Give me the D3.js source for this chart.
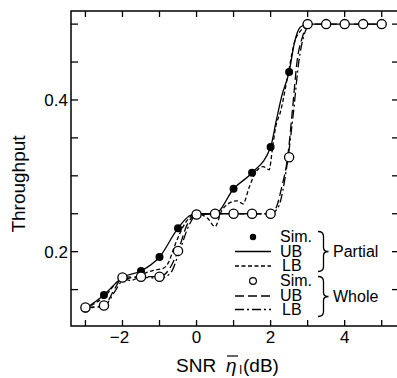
<!DOCTYPE html>
<html><head><meta charset="utf-8">
<script src="https://cdn.jsdelivr.net/npm/d3@7"></script>
<style>html,body{margin:0;padding:0;background:#fff;}svg{display:block;}</style>
</head><body>
<svg id="c" width="397" height="378"></svg>
<script>
// ---- data ----
const simX = [-3,-2.5,-2,-1.5,-1,-0.5,0,0.5,1,1.5,2,2.5,3,3.5,4,4.5,5];
const partialSim = [0.125,0.143,0.166,0.1745,0.193,0.231,0.25,0.25,0.283,0.304,0.338,0.437,0.5,0.5,0.5,0.5,0.5];
const wholeSim   = [0.1265,0.129,0.166,0.167,0.167,0.201,0.249,0.25,0.25,0.25,0.25,0.3245,0.5,0.5,0.5,0.5,0.5];

const partialUBx = [-3,-2.5,-2,-1.5,-1,-0.5,-0.2,0,0.5,1,1.5,2,2.15,2.3,2.5,2.65,2.8,3,5];
const partialUBy = [0.125,0.143,0.166,0.1745,0.193,0.231,0.247,0.25,0.25,0.283,0.304,0.338,0.372,0.405,0.437,0.477,0.496,0.5,0.5];

const partialLBx = [-3,-2.5,-2,-1.78,-1.4,-1.1,-0.9,-0.76,-0.6,-0.3,0,0.3,0.5,0.67,0.85,1.1,1.25,1.43,1.6,1.8,1.96,2.05,2.12,2.28,2.46,2.64,2.86,3];
const partialLBy = [0.125,0.14,0.164,0.162,0.1715,0.176,0.178,0.1855,0.2066,0.238,0.25,0.244,0.233,0.253,0.263,0.267,0.263,0.286,0.305,0.312,0.308,0.336,0.36,0.387,0.431,0.475,0.494,0.5];

const wholeUBx = [-3,-2.5,-2.2,-2,-1.5,-1,-0.75,-0.5,-0.25,0,0.5,1,1.5,2,2.15,2.3,2.46,2.59,2.72,2.86,3,5];
const wholeUBy = [0.1265,0.129,0.152,0.166,0.167,0.167,0.176,0.201,0.236,0.249,0.25,0.25,0.25,0.25,0.258,0.285,0.3245,0.387,0.453,0.483,0.5,0.5];

const wholeLBx = [-3,-2.5,-2.2,-2,-1.7,-1.5,-1,-0.7,-0.5,-0.2,0,0.5,1,1.5,2,2.2,2.46,2.62,2.76,2.9,3];
const wholeLBy = [0.126,0.128,0.148,0.162,0.166,0.166,0.165,0.172,0.195,0.235,0.249,0.25,0.25,0.25,0.25,0.258,0.32,0.385,0.45,0.485,0.498];

const xTicks = [-3,-2,-1,0,1,2,3,4,5];
const xTickLabels = ["", "\u22122", "", "0", "", "2", "", "4", ""];
const yTicks = [0.15,0.2,0.25,0.3,0.35,0.4,0.45,0.5];
const yTickLabels = ["", "0.2", "", "", "", "0.4", "", ""];
const legendLabels = ["Sim.","UB","LB","Sim.","UB","LB"];
const groupLabels = ["Partial","Whole"];

// ---- drawing ----
const svg = d3.select("#c");
const F = "'Liberation Sans', Arial, Helvetica, sans-serif";
const L = 71, R = 398, T = 11, B = 326;
const x = d3.scaleLinear().domain([-3.39, 5.44]).range([L, R]);
const y = d3.scaleLinear().domain([0.102, 0.5173]).range([B, T]);

// frame
svg.append("rect").attr("x", L).attr("y", T).attr("width", R - L).attr("height", B - T)
  .attr("fill", "none").attr("stroke", "#000").attr("stroke-width", 1.5);

// x ticks (inward, bottom and top)
const tk = 6;
xTicks.forEach((v, i) => {
  svg.append("line").attr("x1", x(v)).attr("x2", x(v)).attr("y1", B).attr("y2", B - tk).attr("stroke", "#000").attr("stroke-width", 1.3);
  svg.append("line").attr("x1", x(v)).attr("x2", x(v)).attr("y1", T).attr("y2", T + tk).attr("stroke", "#000").attr("stroke-width", 1.3);
  if (xTickLabels[i]) {
    svg.append("text").attr("x", x(v) - (xTickLabels[i].startsWith("\u2212") ? 3 : 0)).attr("y", 343)
      .attr("text-anchor", "middle").attr("font-family", F).attr("font-size", 17).text(xTickLabels[i]);
  }
});
yTicks.forEach((v, i) => {
  svg.append("line").attr("x1", L).attr("x2", L + 7).attr("y1", y(v)).attr("y2", y(v)).attr("stroke", "#000").attr("stroke-width", 1.3);
  svg.append("line").attr("x1", R).attr("x2", R - 6).attr("y1", y(v)).attr("y2", y(v)).attr("stroke", "#000").attr("stroke-width", 1.3);
  if (yTickLabels[i]) {
    svg.append("text").attr("x", 68).attr("y", y(v) + 6).attr("text-anchor", "end")
      .attr("font-family", F).attr("font-size", 17).text(yTickLabels[i]);
  }
});

// axis titles
svg.append("text").attr("transform", "translate(25,184) rotate(-90)").attr("text-anchor", "middle")
  .attr("font-family", F).attr("font-size", 19).text("Throughput");
svg.append("text").attr("x", 176).attr("y", 372).attr("font-family", F).attr("font-size", 19).text("SNR");
svg.append("text").attr("x", 226).attr("y", 372).attr("font-family", F).attr("font-size", 19).attr("font-style", "italic").text("\u03b7");
svg.append("line").attr("x1", 227).attr("x2", 238).attr("y1", 356).attr("y2", 356).attr("stroke", "#000").attr("stroke-width", 1.2);
svg.append("text").attr("x", 239).attr("y", 374).attr("font-family", F).attr("font-size", 12).text("I");
svg.append("text").attr("x", 243).attr("y", 372).attr("font-family", F).attr("font-size", 19).text("(dB)");

// curves
const line = d3.line().x(d => x(d[0])).y(d => y(d[1])).curve(d3.curveMonotoneX);
function curve(xs, ys, dash) {
  svg.append("path").datum(xs.map((v, i) => [v, ys[i]])).attr("d", line)
    .attr("fill", "none").attr("stroke", "#000").attr("stroke-width", 1.3)
    .attr("stroke-dasharray", dash);
}
const DASH_S = "4,2.5", DASH_L = "9,4", DASH_DD = "9,3,2,3";
curve(wholeLBx, wholeLBy, DASH_DD);
curve(wholeUBx, wholeUBy, DASH_L);
curve(partialLBx, partialLBy, DASH_S);
curve(partialUBx, partialUBy, null);

// sim markers
svg.selectAll("circle.p").data(simX.slice(0, 12)).enter().append("circle")
  .attr("cx", d => x(d)).attr("cy", (d, i) => y(partialSim[i])).attr("r", 4).attr("fill", "#000");
svg.selectAll("circle.w").data(simX).enter().append("circle")
  .attr("cx", d => x(d)).attr("cy", (d, i) => y(wholeSim[i])).attr("r", 4.6)
  .attr("fill", "#fff").attr("stroke", "#000").attr("stroke-width", 1.3);

// legend
const rowY = [237, 251.5, 266, 281, 296, 309.5];
const textY = [242.3, 256.7, 271, 286, 300.7, 315];
svg.append("circle").attr("cx", 253).attr("cy", rowY[0]).attr("r", 3.2).attr("fill", "#000");
svg.append("circle").attr("cx", 253).attr("cy", rowY[3]).attr("r", 3.4).attr("fill", "#fff").attr("stroke", "#000").attr("stroke-width", 1.2);
[[1, null], [2, DASH_S], [4, DASH_L], [5, DASH_DD]].forEach(([r, d]) => {
  svg.append("line").attr("x1", 235).attr("x2", 271).attr("y1", rowY[r]).attr("y2", rowY[r])
    .attr("stroke", "#000").attr("stroke-width", 1.3).attr("stroke-dasharray", d);
});
legendLabels.forEach((t, i) => {
  svg.append("text").attr("x", i === 2 || i === 5 ? 282 : 280).attr("y", textY[i])
    .attr("font-family", F).attr("font-size", 16).text(t);
});
function brace(y0, y1) {
  const m = (y0 + y1) / 2, xa = 318, xb = 323.5, xt = 328.5;
  const p = `M${xa},${y0} Q${xb},${y0} ${xb},${y0 + 5} L${xb},${m - 4} Q${xb},${m} ${xt},${m} Q${xb},${m} ${xb},${m + 4} L${xb},${y1 - 5} Q${xb},${y1} ${xa},${y1}`;
  svg.append("path").attr("d", p).attr("fill", "none").attr("stroke", "#000").attr("stroke-width", 1.3);
}
brace(231.5, 271.5);
brace(276.5, 316.5);
svg.append("text").attr("x", 333).attr("y", 257.3).attr("font-family", F).attr("font-size", 16).text(groupLabels[0]);
svg.append("text").attr("x", 333).attr("y", 302.3).attr("font-family", F).attr("font-size", 16).text(groupLabels[1]);
</script>
</body></html>
